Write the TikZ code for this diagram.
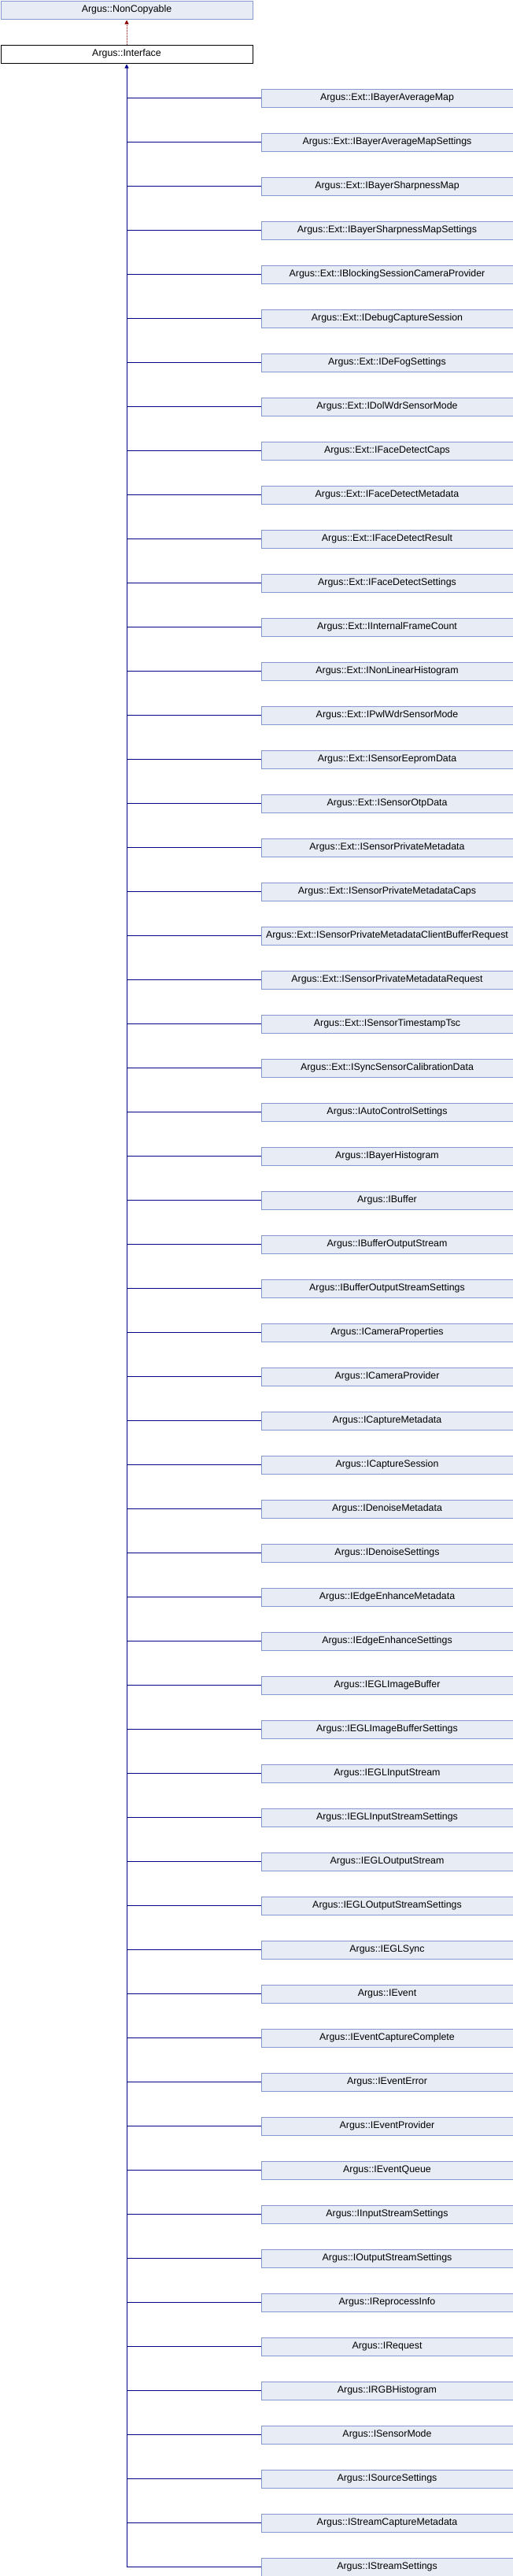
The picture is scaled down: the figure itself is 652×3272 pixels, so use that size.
\documentclass[tikz,border=0pt]{standalone}
\usepackage{fontspec}
\setmainfont{Liberation Sans}
\usetikzlibrary{arrows.meta}

\definecolor{boxfill}{RGB}{232,236,245}
\definecolor{boxline}{RGB}{132,154,206}
\definecolor{publink}{RGB}{0,0,139}
\definecolor{privlink}{RGB}{139,0,0}

\tikzset{
  classbox/.style={draw=boxline,fill=boxfill,line width=1pt,anchor=north west,
    minimum width=320pt,minimum height=23pt,inner sep=0pt,
    font=\fontsize{12.4}{14}\selectfont},
  thisbox/.style={classbox,draw=black,fill=white},
  publine/.style={draw=publink,line width=1pt},
  privline/.style={draw=privlink,line width=1pt,dash pattern=on 1pt off 1pt},
  inhtip/.style={-{Triangle[length=5pt,width=5pt]},shorten >=1pt}
}

\begin{document}
\begin{tikzpicture}[x=1pt,y=1pt,yscale=-1,xscale=1]
\useasboundingbox (0,0) rectangle (652,3272);
% base classes
\node[classbox] (noncopy) at (0.5,0.5) {Argus::NonCopyable};
\node[thisbox] (iface) at (0.5,56.5) {Argus::Interface};
\draw[privline,inhtip] (iface.north) -- (noncopy.south);
% derived interfaces
\foreach \cname [count=\i] in {
  Argus::Ext::IBayerAverageMap,
  Argus::Ext::IBayerAverageMapSettings,
  Argus::Ext::IBayerSharpnessMap,
  Argus::Ext::IBayerSharpnessMapSettings,
  Argus::Ext::IBlockingSessionCameraProvider,
  Argus::Ext::IDebugCaptureSession,
  Argus::Ext::IDeFogSettings,
  Argus::Ext::IDolWdrSensorMode,
  Argus::Ext::IFaceDetectCaps,
  Argus::Ext::IFaceDetectMetadata,
  Argus::Ext::IFaceDetectResult,
  Argus::Ext::IFaceDetectSettings,
  Argus::Ext::IInternalFrameCount,
  Argus::Ext::INonLinearHistogram,
  Argus::Ext::IPwlWdrSensorMode,
  Argus::Ext::ISensorEepromData,
  Argus::Ext::ISensorOtpData,
  Argus::Ext::ISensorPrivateMetadata,
  Argus::Ext::ISensorPrivateMetadataCaps,
  Argus::Ext::ISensorPrivateMetadataClientBufferRequest,
  Argus::Ext::ISensorPrivateMetadataRequest,
  Argus::Ext::ISensorTimestampTsc,
  Argus::Ext::ISyncSensorCalibrationData,
  Argus::IAutoControlSettings,
  Argus::IBayerHistogram,
  Argus::IBuffer,
  Argus::IBufferOutputStream,
  Argus::IBufferOutputStreamSettings,
  Argus::ICameraProperties,
  Argus::ICameraProvider,
  Argus::ICaptureMetadata,
  Argus::ICaptureSession,
  Argus::IDenoiseMetadata,
  Argus::IDenoiseSettings,
  Argus::IEdgeEnhanceMetadata,
  Argus::IEdgeEnhanceSettings,
  Argus::IEGLImageBuffer,
  Argus::IEGLImageBufferSettings,
  Argus::IEGLInputStream,
  Argus::IEGLInputStreamSettings,
  Argus::IEGLOutputStream,
  Argus::IEGLOutputStreamSettings,
  Argus::IEGLSync,
  Argus::IEvent,
  Argus::IEventCaptureComplete,
  Argus::IEventError,
  Argus::IEventProvider,
  Argus::IEventQueue,
  Argus::IInputStreamSettings,
  Argus::IOutputStreamSettings,
  Argus::IReprocessInfo,
  Argus::IRequest,
  Argus::IRGBHistogram,
  Argus::ISensorMode,
  Argus::ISourceSettings,
  Argus::IStreamCaptureMetadata,
  Argus::IStreamSettings}
{
  \node[classbox] (c\i) at (331.5,{112.5+56*(\i-1)}) {\cname};
  \draw[publine] (c\i.west) -- (c\i.west -| iface.south);
}
% trunk up to Argus::Interface
\draw[publine,inhtip] (c57.west -| iface.south) -- (iface.south);
\end{tikzpicture}
\end{document}
